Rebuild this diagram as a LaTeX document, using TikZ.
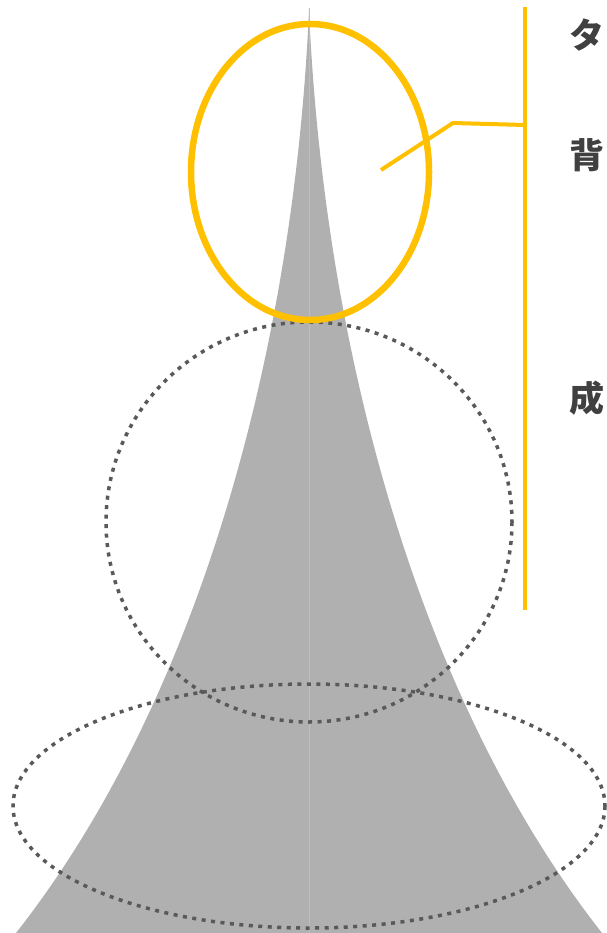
\documentclass[tikz,border=0pt]{standalone}
\usepackage{fontspec}
\newfontfamily\cjk{Noto Sans CJK JP}
\definecolor{cone}{HTML}{B0B0B0}
\definecolor{coneaxis}{HTML}{BEBEBE}
\definecolor{gold}{HTML}{FFC000}
\definecolor{dotgray}{HTML}{595959}
\definecolor{ink}{HTML}{404040}
\tikzset{
  zone/.style={dotgray, line width=3.5pt, dash pattern=on 4pt off 5.5pt},
  lead/.style={gold, line width=4pt},
  tag/.style={ink, font=\cjk\bfseries\fontsize{35}{35}\selectfont, inner sep=0pt}
}
\begin{document}
\begin{tikzpicture}[x=1pt,y=-1pt]
\useasboundingbox (0,0) rectangle (606,933);

% Cone
\fill [cone] (309,10) .. controls (324,350) and (419,700) .. (602,933)
   -- (16,933) .. controls (199,700) and (294,350) .. (309,10) -- cycle;
\draw [coneaxis, line width=0.6pt] (309,8) -- (309,933);

% Zones (dotted)
\draw [zone] (309,522) ellipse [x radius=203, y radius=200];
\draw [zone] (309,806) ellipse [x radius=296, y radius=122];

% Top zone
\draw [gold, line width=6.5pt] (310,172) ellipse [x radius=119, y radius=148];

% Bar and leader
\coordinate (bartop) at (525,7);
\coordinate (barbot) at (525,610);
\coordinate (barjoin) at (525,125);
\coordinate (knee) at (453,123);
\coordinate (leadstart) at (381,170);
\draw [lead] (bartop) -- (barbot);
\draw [lead] (leadstart) -- (knee) -- (barjoin);

% Labels
\node [tag] (ta)  at (587,35)  {タ};
\node [tag] (hai) at (587,155) {背};
\node [tag] (sei) at (587,398) {成};

\end{tikzpicture}
\end{document}
